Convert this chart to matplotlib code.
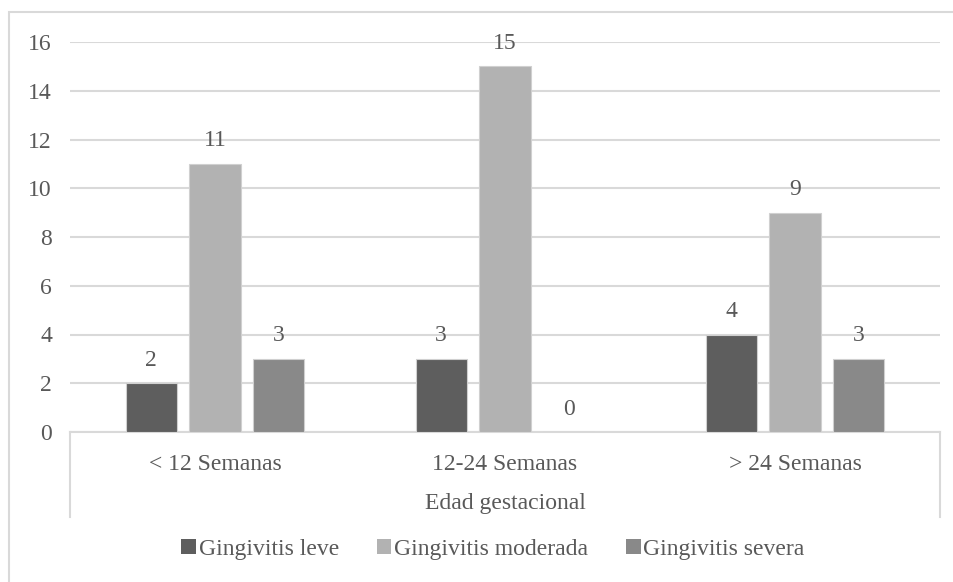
import numpy as np
import matplotlib.pyplot as plt
from matplotlib.patches import Rectangle
from matplotlib.lines import Line2D

fuente = 'Liberation Serif'
plt.rcParams['font.family'] = [fuente, 'DejaVu Serif']

categorias = ['< 12 Semanas', '12-24 Semanas', '> 24 Semanas']
series = ['Gingivitis leve', 'Gingivitis moderada', 'Gingivitis severa']
leve = [2, 3, 4]
moderada = [11, 15, 9]
severa = [3, 0, 3]
colores = ['#5e5e5e', '#b2b2b2', '#898989']
gris_texto = '#595959'
gris_linea = '#d9d9d9'

fig = plt.figure(figsize=(9.54, 5.82), dpi=100)
ax = fig.add_axes([70/954, 1-432/582, 870/954, 390/582])

# borde exterior del grafico
fig.patches.append(Rectangle((9/954, -0.1), 1.0, 1-12/582+0.1, transform=fig.transFigure,
                             fill=False, edgecolor=gris_linea, linewidth=1.5))

x = np.arange(len(categorias))
ancho = 0.176
paso = 0.22
for i, (vals, nombre) in enumerate(zip([leve, moderada, severa], series)):
    pos = x + (i - 1) * paso
    barras = ax.bar(pos, vals, ancho, color=colores[i], edgecolor='#d0d0d0',
                    linewidth=0.8, label=nombre, zorder=3)
    for b, v in zip(barras, vals):
        ax.annotate(str(v), (b.get_x() + b.get_width()/2, v), xytext=(0, 16.5),
                    textcoords='offset points', ha='center', va='center',
                    fontsize=17, color=gris_texto, family=fuente)

ax.set_xlim(-0.5, 2.5)
ax.set_ylim(0, 16)
ax.set_yticks(range(0, 17, 2))
ax.set_yticklabels([str(v) for v in range(0, 17, 2)], family=fuente)
ax.yaxis.grid(True, color=gris_linea, linewidth=1.5, zorder=0)
ax.tick_params(axis='y', length=0, pad=13, labelsize=17, labelcolor=gris_texto)
ax.set_xticks(x)
ax.set_xticklabels(categorias, family=fuente)
ax.tick_params(axis='x', length=0, pad=15.5, labelsize=17, labelcolor=gris_texto)
for s in ['top', 'right', 'left']:
    ax.spines[s].set_visible(False)
ax.spines['bottom'].set_color(gris_linea)
ax.spines['bottom'].set_linewidth(1.5)

# lineas verticales del eje de categorias
for xf in [70/954, 940/954]:
    fig.add_artist(Line2D([xf, xf], [1-432/582, 1-517/582], color=gris_linea, linewidth=1.5))

fig.text(505/954, 1-504/582, 'Edad gestacional', ha='center', va='center',
         fontsize=17, color=gris_texto, family=fuente)

leg = fig.legend(loc='center', bbox_to_anchor=(493/954, 1-549/582), ncol=3, frameon=False,
                 prop={'family': fuente, 'size': 17}, handlelength=0.62, handleheight=0.62,
                 handletextpad=0.12, columnspacing=1.6, labelcolor=gris_texto,
                 borderpad=0, borderaxespad=0)
for h in leg.legend_handles:
    h.set_edgecolor('none')

plt.savefig('out.png', dpi=100)
